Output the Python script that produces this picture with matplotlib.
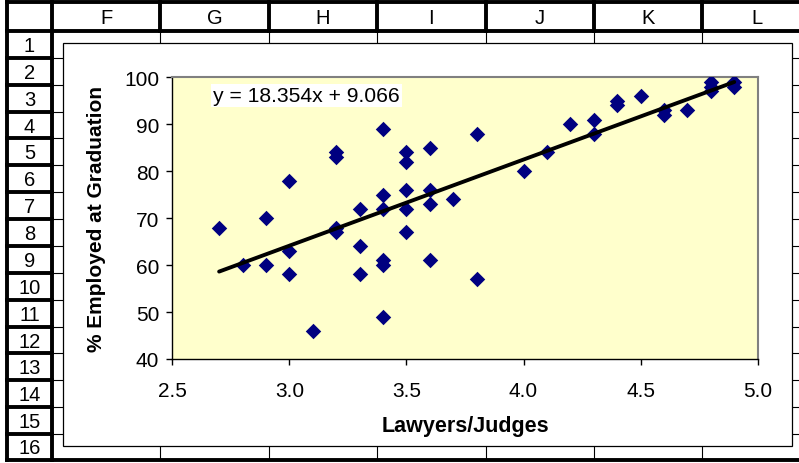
import numpy as np
import matplotlib
matplotlib.use('Agg')
import matplotlib.pyplot as plt
from matplotlib.patches import Rectangle

plt.rcParams['font.family'] = ['Liberation Sans', 'DejaVu Sans']

# Lawyers/Judges score vs % employed at graduation
lawyers = [2.7, 2.8, 2.9, 2.9, 3.0, 3.0, 3.0, 3.1, 3.2, 3.2, 3.2, 3.2,
           3.3, 3.3, 3.3, 3.4, 3.4, 3.4, 3.4, 3.4, 3.4, 3.5, 3.5, 3.5,
           3.5, 3.5, 3.6, 3.6, 3.6, 3.6, 3.7, 3.8, 3.8, 4.0, 4.1, 4.2,
           4.3, 4.3, 4.4, 4.4, 4.5, 4.6, 4.6, 4.7, 4.8, 4.8, 4.8, 4.9, 4.9]
employed = [68, 60, 70, 60, 78, 63, 58, 46, 84, 83, 68, 67,
            72, 64, 58, 89, 75, 72, 61, 60, 49, 84, 82, 76,
            72, 67, 85, 76, 73, 61, 74, 88, 57, 80, 84, 90,
            91, 88, 95, 94, 96, 93, 92, 93, 99, 98, 97, 99, 98]

# trendline from the chart's equation
slope, intercept = 18.354, 9.066

col_letters = ['F', 'G', 'H', 'I', 'J', 'K', 'L']
row_numbers = [str(i) for i in range(1, 17)]

W, H = 799, 464
fig = plt.figure(figsize=(W / 100, H / 100), dpi=100)

# spreadsheet grid drawn in pixel coordinates
grid = fig.add_axes([0, 0, 1, 1])
grid.set_xlim(0, W)
grid.set_ylim(H, 0)
grid.axis('off')

hdr_left, hdr_right = 7, 52
top, hdr_bottom = 3, 32
col_w = 108.4
row_h = 26.87
bottom = 461

col_edges = [hdr_right + col_w * i for i in range(len(col_letters) + 1)]
row_edges = [hdr_bottom + row_h * i for i in range(len(row_numbers) + 1)]
row_edges[-1] = bottom

# thin cell lines
for x in col_edges[1:]:
    grid.plot([x, x], [hdr_bottom, bottom], color='black', lw=0.8)
for y in row_edges[1:-1]:
    grid.plot([hdr_right, W], [y, y], color='black', lw=0.8)

# heavy header lines
thick = 2.8
grid.plot([hdr_left, W], [top, top], color='black', lw=thick)
grid.plot([hdr_left, W], [hdr_bottom, hdr_bottom], color='black', lw=thick)
grid.plot([hdr_left, W], [bottom, bottom], color='black', lw=thick)
grid.plot([hdr_left, hdr_left], [top, bottom], color='black', lw=thick)
grid.plot([hdr_right, hdr_right], [top, bottom], color='black', lw=thick)
for x in col_edges[1:]:
    grid.plot([x, x], [top, hdr_bottom], color='black', lw=thick)
for y in row_edges[1:-1]:
    grid.plot([hdr_left, hdr_right], [y, y], color='black', lw=thick)

for i, c in enumerate(col_letters):
    grid.text((col_edges[i] + col_edges[i + 1]) / 2, (top + hdr_bottom) / 2 + 1, c,
              ha='center', va='center', fontsize=14.5)
for i, r in enumerate(row_numbers):
    yc = (row_edges[i] + row_edges[i + 1]) / 2
    if i == len(row_numbers) - 1:
        yc = row_edges[i] + row_h / 2 - 1
    grid.text((hdr_left + hdr_right) / 2, yc + 1, r,
              ha='center', va='center', fontsize=14.5)

# chart area
grid.add_patch(Rectangle((63, 44), 729, 403, facecolor='white',
                         edgecolor='black', lw=0.9, zorder=5))

# plot area
px0, px1, py0, py1 = 172.3, 757.7, 78.3, 360
ax = fig.add_axes([px0 / W, 1 - py1 / H, (px1 - px0) / W, (py1 - py0) / H])
ax.set_zorder(10)
ax.set_facecolor('#FFFFCC')
ax.set_xlim(2.5, 5.0)
ax.set_ylim(40, 100)
ax.set_xticks(np.arange(2.5, 5.01, 0.5))
ax.set_yticks(range(40, 101, 10))
ax.xaxis.set_major_formatter(plt.FormatStrFormatter('%.1f'))
ax.tick_params(direction='out', length=4.5, width=1, labelsize=15, pad=11)
ax.tick_params(axis='y', pad=5)
for side in ['top', 'right']:
    ax.spines[side].set_color('#808080')
    ax.spines[side].set_linewidth(1.5)
for side in ['left', 'bottom']:
    ax.spines[side].set_color('black')
    ax.spines[side].set_linewidth(1.0)

ax.scatter(lawyers, employed, marker='D', s=62, color='#000080', zorder=3,
           linewidths=0)
xs = np.array([min(lawyers), max(lawyers)])
ax.plot(xs, slope * xs + intercept, color='black', lw=2.8, zorder=4,
        solid_capstyle='round')

ax.text(0.0695, 0.935, f'y = {slope}x + {intercept}', transform=ax.transAxes,
        ha='left', va='center', fontsize=15.2, zorder=5,
        bbox=dict(facecolor='white', edgecolor='none', pad=1.5))

fig.text(97 / W, 1 - 219 / H, '% Employed at Graduation',
         rotation=90, ha='center', va='center', fontsize=15,
         fontweight='bold', zorder=20)
fig.text(465 / W, 1 - 427 / H, 'Lawyers/Judges', ha='center', va='center',
         fontsize=15.5, fontweight='bold', zorder=20)

fig.savefig('out.png', dpi=100)
